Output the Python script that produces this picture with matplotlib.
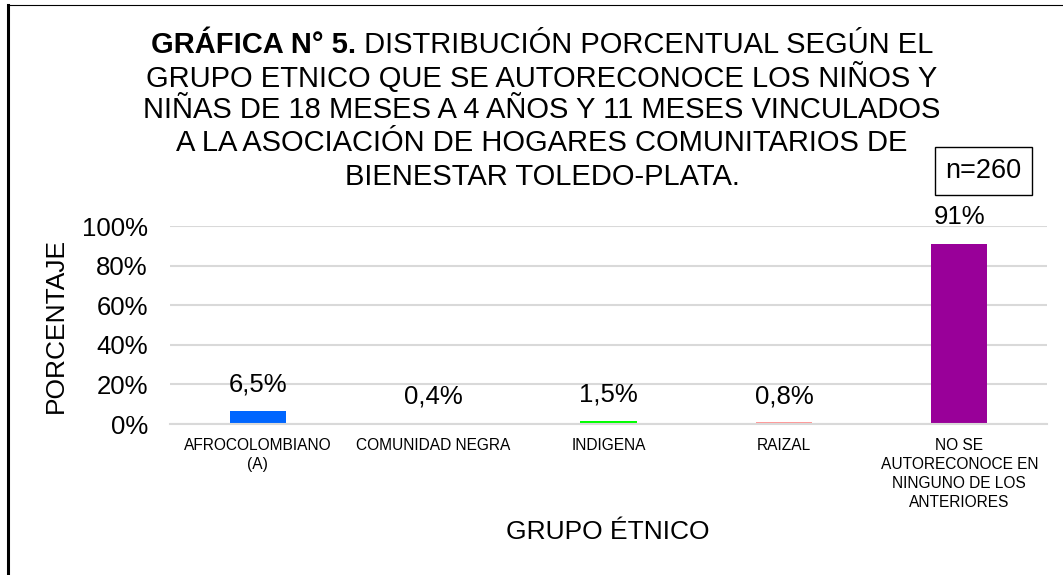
import matplotlib.pyplot as plt
from matplotlib.lines import Line2D

plt.rcParams["font.family"] = ["Liberation Sans", "DejaVu Sans"]

# data
categorias = ["AFROCOLOMBIANO\n(A)", "COMUNIDAD NEGRA", "INDIGENA", "RAIZAL",
              "NO SE\nAUTORECONOCE EN\nNINGUNO DE LOS\nANTERIORES"]
porcentajes = [6.5, 0.4, 1.5, 0.8, 91]
etiquetas = ["6,5%", "0,4%", "1,5%", "0,8%", "91%"]
colores = ["#0066FF", "#7F7F7F", "#00FF00", "#FF9999", "#990099"]

W, H = 1063, 575
fig = plt.figure(figsize=(W / 100, H / 100), dpi=100)
ax = fig.add_axes([170 / W, 1 - 424 / H, (1047 - 170) / W, 198 / H])

x = range(len(categorias))
ax.bar(x, [p / 100 for p in porcentajes], width=0.32, color=colores, zorder=2)

for xi, p, lab in zip(x, porcentajes, etiquetas):
    ax.annotate(lab, (xi, p / 100), xytext=(0, 19), textcoords="offset points",
                ha="center", va="center", fontsize=18.5)

ax.set_xlim(-0.5, len(categorias) - 0.5)
ax.set_ylim(0, 1)
ax.set_yticks([0, 0.2, 0.4, 0.6, 0.8, 1.0])
ax.set_yticklabels(["0%", "20%", "40%", "60%", "80%", "100%"], fontsize=18.5)
ax.set_xticks(list(x))
ax.set_xticklabels(categorias, fontsize=11.2, linespacing=1.35, va="top")
ax.tick_params(axis="both", length=0)
ax.tick_params(axis="y", pad=16)
ax.tick_params(axis="x", pad=10)
ax.grid(axis="y", color="#D9D9D9", linewidth=1.5, zorder=0)
ax.set_axisbelow(True)
for s in ["top", "right", "left"]:
    ax.spines[s].set_visible(False)
ax.spines["bottom"].set_color("#D9D9D9")
ax.spines["bottom"].set_linewidth(1.5)

ax.set_ylabel("PORCENTAJE", fontsize=19, labelpad=10)
fig.text(608 / W, 1 - 532 / H, "GRUPO ÉTNICO", fontsize=19, ha="center", va="center")

# title, line by line
cx = 542
fs_t = 21
rend = fig.canvas.get_renderer()
t_bold = fig.text(0, 1 - 45 / H, "GRÁFICA N° 5.", fontsize=fs_t, fontweight="bold",
                  va="center", ha="left")
t_rest = fig.text(0, 1 - 45 / H, " DISTRIBUCIÓN PORCENTUAL SEGÚN EL", fontsize=fs_t,
                  va="center", ha="left")
wb = t_bold.get_window_extent(rend).width
wr = t_rest.get_window_extent(rend).width
x0 = cx - (wb + wr) / 2
t_bold.set_x(x0 / W)
t_rest.set_x((x0 + wb) / W)

otras = ["GRUPO ETNICO QUE SE AUTORECONOCE LOS NIÑOS Y",
         "NIÑAS DE 18 MESES A 4 AÑOS Y 11 MESES VINCULADOS",
         "A LA ASOCIACIÓN DE HOGARES COMUNITARIOS DE",
         "BIENESTAR TOLEDO-PLATA."]
for yy, linea in zip([78, 110, 143, 177], otras):
    fig.text(cx / W, 1 - yy / H, linea, fontsize=fs_t, ha="center", va="center")

# n box
fig.text(983.5 / W, 1 - 171 / H, "n=260", fontsize=19.5, ha="center", va="center",
         bbox=dict(boxstyle="square,pad=0.4", facecolor="white", edgecolor="black",
                   linewidth=1))

# figure border (left and top)
fig.add_artist(Line2D([8 / W, 8 / W], [0, 1 - 5 / H], color="black", linewidth=2.2,
                      transform=fig.transFigure))
fig.add_artist(Line2D([8 / W, 1], [1 - 5 / H, 1 - 5 / H], color="black", linewidth=0.8,
                      transform=fig.transFigure))

fig.savefig("out.png", dpi=100)
